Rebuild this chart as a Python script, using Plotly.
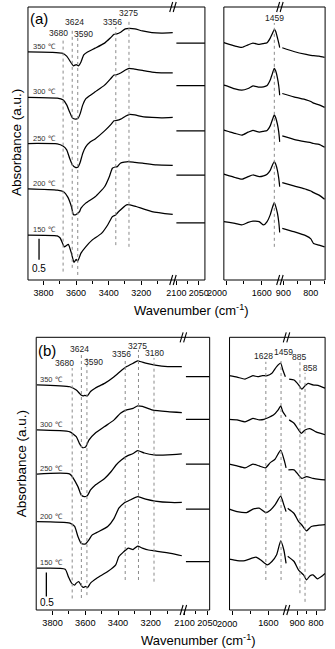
import plotly.graph_objects as go

FONT = "Liberation Sans, Arial, Helvetica, sans-serif"

temps = ["350 ℃", "300 ℃", "250 ℃", "200 ℃", "150 ℃"]

# ---------------- panel (a) data ----------------
a_oh_wn = [
    [3896, 3745, 3687, 3658, 3634, 3617, 3599, 3585, 3570, 3553, 3530, 3483, 3425, 3390, 3367, 3350, 3326, 3297, 3274, 3239, 3192, 3134, 3076, 3006],
    [3896, 3716, 3681, 3658, 3640, 3623, 3605, 3588, 3576, 3559, 3541, 3512, 3483, 3425, 3384, 3367, 3350, 3326, 3297, 3274, 3239, 3192, 3134, 3076, 3006],
    [3896, 3716, 3681, 3658, 3640, 3623, 3605, 3588, 3576, 3559, 3541, 3512, 3483, 3425, 3384, 3367, 3350, 3326, 3297, 3274, 3239, 3192, 3134, 3076, 3006],
    [3896, 3716, 3677, 3652, 3629, 3617, 3605, 3590, 3579, 3570, 3541, 3483, 3425, 3396, 3377, 3361, 3347, 3328, 3280, 3239, 3192, 3105, 3006],
    [3896, 3716, 3698, 3673, 3663, 3648, 3629, 3613, 3600, 3590, 3570, 3541, 3502, 3444, 3406, 3377, 3357, 3338, 3290, 3268, 3231, 3134, 3006],
]
a_oh_abs = [
    [5.43, 5.42, 5.40, 5.33, 5.19, 5.10, 5.13, 5.10, 5.19, 5.36, 5.43, 5.52, 5.64, 5.76, 5.85, 5.86, 5.90, 5.98, 5.99, 5.98, 5.93, 5.89, 5.88, 5.89],
    [4.35, 4.33, 4.29, 4.17, 4.00, 3.86, 3.83, 3.85, 3.95, 4.17, 4.31, 4.40, 4.48, 4.64, 4.81, 4.88, 4.89, 4.93, 5.00, 5.04, 5.02, 4.99, 4.95, 4.93, 4.93],
    [3.25, 3.24, 3.19, 3.10, 2.90, 2.74, 2.68, 2.69, 2.79, 3.02, 3.17, 3.29, 3.36, 3.55, 3.71, 3.79, 3.80, 3.83, 3.90, 3.94, 3.93, 3.89, 3.87, 3.86, 3.87],
    [2.17, 2.14, 2.10, 1.98, 1.75, 1.56, 1.55, 1.59, 1.63, 1.71, 1.83, 1.98, 2.22, 2.46, 2.66, 2.69, 2.70, 2.78, 2.82, 2.80, 2.78, 2.74, 2.73],
    [1.07, 1.05, 1.00, 0.79, 0.81, 0.85, 0.64, 0.42, 0.49, 0.45, 0.64, 0.79, 0.95, 1.11, 1.31, 1.51, 1.55, 1.63, 1.79, 1.79, 1.75, 1.63, 1.56],
]
a_mid_wn = [2100, 2036]
a_mid_abs = [5.64, 4.63, 3.55, 2.50, 1.36]
a_fp_wn = [2026, 1965, 1900, 1824, 1753, 1699, 1629, 1580, 1540, 1505, 1480, 1459, 1444, 1423, 1409, 1398]
a_fp_abs = [
    [5.65, 5.61, 5.57, 5.54, 5.60, 5.64, 5.61, 5.63, 5.65, 5.76, 5.87, 5.97, 5.92, 5.76, 5.64, 5.53],
    [4.64, 4.60, 4.55, 4.52, 4.56, 4.62, 4.59, 4.60, 4.63, 4.76, 4.92, 5.04, 4.98, 4.80, 4.62, 4.40],
    [3.57, 3.53, 3.49, 3.45, 3.52, 3.56, 3.52, 3.54, 3.56, 3.67, 3.82, 3.93, 3.87, 3.70, 3.52, 3.29],
    [2.52, 2.48, 2.44, 2.40, 2.46, 2.50, 2.46, 2.48, 2.52, 2.61, 2.74, 2.82, 2.76, 2.60, 2.42, 2.22],
    [1.39, 1.37, 1.35, 1.31, 1.37, 1.40, 1.39, 1.31, 1.39, 1.55, 1.73, 1.84, 1.76, 1.58, 1.38, 1.13],
]
a_lo_wn = [904, 862, 817, 800, 790, 770, 750]
a_lo_abs = [
    [5.53, 5.44, 5.37, 5.35, 5.34, 5.33, 5.30],
    [4.44, 4.36, 4.29, 4.25, 4.21, 4.17, 4.11],
    [3.43, 3.35, 3.29, 3.27, 3.25, 3.23, 3.16],
    [2.32, 2.24, 2.16, 2.12, 2.08, 2.02, 1.92],
    [1.23, 1.15, 1.05, 0.98, 0.87, 0.83, 0.79],
]

# ---------------- panel (b) data ----------------
b_oh_wn = [
    [3896, 3694, 3655, 3626, 3613, 3603, 3588, 3568, 3540, 3482, 3424, 3376, 3347, 3308, 3280, 3231, 3174, 3096, 3010],
    [3896, 3694, 3655, 3636, 3616, 3597, 3578, 3540, 3482, 3424, 3385, 3347, 3308, 3280, 3251, 3193, 3096, 3010],
    [3896, 3694, 3645, 3626, 3607, 3588, 3568, 3540, 3482, 3443, 3412, 3378, 3343, 3308, 3280, 3239, 3181, 3096, 3010],
    [3896, 3694, 3665, 3645, 3626, 3609, 3597, 3578, 3559, 3520, 3463, 3424, 3395, 3366, 3327, 3279, 3231, 3174, 3077, 3010],
    [3896, 3723, 3703, 3684, 3665, 3655, 3640, 3626, 3613, 3597, 3586, 3568, 3530, 3463, 3414, 3395, 3366, 3337, 3308, 3280, 3251, 3214, 3174, 3077, 3010],
]
b_oh_abs = [
    [4.69, 4.65, 4.58, 4.48, 4.46, 4.47, 4.46, 4.55, 4.62, 4.72, 4.86, 5.00, 5.07, 5.14, 5.19, 5.14, 5.10, 5.07, 5.07],
    [3.75, 3.71, 3.61, 3.47, 3.38, 3.40, 3.54, 3.68, 3.82, 3.96, 4.10, 4.17, 4.20, 4.25, 4.24, 4.17, 4.13, 4.11],
    [2.83, 2.83, 2.57, 2.40, 2.36, 2.38, 2.50, 2.60, 2.74, 2.88, 3.02, 3.13, 3.21, 3.26, 3.32, 3.27, 3.23, 3.23, 3.25],
    [1.84, 1.81, 1.74, 1.53, 1.39, 1.37, 1.38, 1.46, 1.56, 1.63, 1.74, 1.91, 2.12, 2.22, 2.29, 2.36, 2.31, 2.27, 2.24, 2.24],
    [0.87, 0.85, 0.69, 0.56, 0.52, 0.56, 0.59, 0.52, 0.47, 0.49, 0.47, 0.56, 0.66, 0.80, 0.94, 1.11, 1.21, 1.29, 1.26, 1.33, 1.29, 1.25, 1.23, 1.18, 1.13],
]
b_mid_wn = [2097, 2045]
b_mid_abs = [4.86, 3.97, 3.04, 2.10, 1.01]
b_fp_wn = [
    [2035, 1948, 1860, 1772, 1719, 1666, 1614, 1561, 1508, 1463, 1439, 1411],
    [2035, 1948, 1860, 1772, 1702, 1649, 1597, 1544, 1491, 1463, 1439, 1403],
    [2035, 1948, 1860, 1772, 1702, 1631, 1579, 1526, 1463, 1421, 1403],
    [2035, 1948, 1842, 1772, 1702, 1631, 1579, 1526, 1463, 1428, 1403],
    [2035, 1948, 1860, 1738, 1684, 1614, 1561, 1508, 1463, 1428, 1403],
]
b_fp_abs = [
    [4.88, 4.85, 4.81, 4.88, 4.86, 4.88, 4.88, 4.93, 5.07, 5.14, 5.00, 4.86],
    [3.97, 3.96, 3.92, 3.99, 3.96, 3.97, 4.01, 4.06, 4.17, 4.25, 4.13, 4.03],
    [3.04, 3.00, 2.96, 3.04, 3.00, 2.96, 3.07, 3.14, 3.33, 3.10, 2.96],
    [2.10, 2.05, 2.03, 2.10, 2.12, 2.03, 2.08, 2.19, 2.37, 2.19, 2.05],
    [1.06, 1.03, 1.03, 1.10, 1.04, 0.94, 1.01, 1.15, 1.44, 1.25, 0.97],
]
b_lo_wn = [
    [942, 916, 892, 875, 858, 842, 816, 783, 752],
    [942, 916, 892, 878, 858, 833, 800, 752],
    [946, 916, 892, 875, 850, 816, 783, 752],
    [950, 916, 892, 875, 850, 825, 783, 752],
    [950, 916, 892, 866, 850, 833, 816, 792, 767, 752],
]
b_lo_abs = [
    [4.81, 4.79, 4.69, 4.60, 4.67, 4.72, 4.69, 4.67, 4.62],
    [3.96, 3.89, 3.75, 3.68, 3.75, 3.78, 3.71, 3.65],
    [2.92, 2.92, 2.81, 2.74, 2.78, 2.74, 2.72, 2.71],
    [2.12, 2.01, 1.84, 1.77, 1.65, 1.74, 1.77, 1.78],
    [1.12, 1.01, 0.83, 0.73, 0.625, 0.71, 0.73, 0.65, 0.71, 0.76],
]

# band positions (cm-1)
a_bands = [[3680, 3624, 3590, 3356, 3275], [], [1459], []]
b_bands = [[3680, 3624, 3590, 3356, 3275, 3180], [], [1628, 1459], [885, 858]]

# tick labels
a_ticks = [[3800, 3600, 3400, 3200], [2100, 2050], [2000, 1600], [900, 800]]
b_ticks = [[3800, 3600, 3400, 3200], [2100, 2050], [2000, 1600], [900, 800]]
a_minor = [[3700, 3500, 3300, 3100], [2075], [1800], [850, 750]]
b_minor = [[3700, 3500, 3300, 3100], [2075], [1800], [850]]
scale_len = 0.5

# ---------------- layout geometry ----------------
W, H = 335, 649
def fx(p): return p / W
def fy(p): return 1 - p / H

# pixel edges of the four x-regions of each panel: (left, right)
panels = [
    dict(tag="(a)", tagpos=(30.8, 18.3),
         reg=[(19, 173), (173, 206), (226, 286), (286, 333)], ye=[7, 280], yr=[0, 6.5],
         ranges=[[3896, 3000], [2106, 2036], [2026, 1388], [910, 748]],
         series=[(a_oh_wn, a_oh_abs), (a_mid_wn, a_mid_abs), (a_fp_wn, a_fp_abs), (a_lo_wn, a_lo_abs)],
         bands=a_bands, ticks=a_ticks, minor=a_minor, tickfs=9,
         band_y=[[(0.20, 5.76), (0.29, 6.00), (0.12, 5.88), (0.83, 6.02), (0.79, 6.19)], [], [(0.79, 6.12)], []],
         band_lab=[[(-4.5, 5.87), (2, 6.14), (5.7, 5.86), (-3.5, 6.15), (0, 6.35)], [], [(0, 6.25)], []],
         templ_x=3880, sb=(3828, 0.48), sb_lab=(3830, 0.28),
         ylab=(7, 142.5), xlab=(191.3, 310), lab2000=-8.7, ticky=13.3),
    dict(tag="(b)", tagpos=(39.2, 350),
         reg=[(27.7, 184), (184, 211), (232, 293), (293, 333)], ye=[337.3, 610], yr=[0, 5.68],
         ranges=[[3900, 2996], [2101, 2045], [2032, 1390], [952, 752]],
         series=[(b_oh_wn, b_oh_abs), (b_mid_wn, b_mid_abs), (b_fp_wn, b_fp_abs), (b_lo_wn, b_lo_abs)],
         bands=b_bands, ticks=b_ticks, minor=b_minor, tickfs=9.2,
         band_y=[[(0.24, 5.04), (0.25, 5.35), (0.31, 5.28), (0.625, 5.25), (0.625, 5.42), (0.59, 5.25)], [],
                 [(0.625, 5.17), (0.625, 5.25)], [(0.35, 5.17), (0.17, 4.94)]],
         band_lab=[[(-7.4, 5.14), (-2, 5.43), (7, 5.16), (-3.5, 5.33), (-0.8, 5.5), (0.5, 5.35)], [],
                   [(-2.7, 5.29), (2, 5.38)], [(-1.3, 5.28), (5, 5.04)]],
         templ_x=3890, sb=(3838, 0.28), sb_lab=(3835, 0.15),
         ylab=(12.5, 463.5), xlab=(199, 640), lab2000=-5.5, ticky=14.3),
]

fig = go.Figure()
layout = dict(width=W, height=H, margin=dict(l=0, r=0, t=0, b=0),
              plot_bgcolor="white", paper_bgcolor="white", showlegend=False,
              font=dict(family=FONT, color="black"))
shapes, annotations = [], []

def is_multi(v):
    return len(v) > 0 and isinstance(v[0], list)

for k, p in enumerate(panels):
    ydom = [fy(p["ye"][1]), fy(p["ye"][0])]
    for i in range(4):
        n = 4 * k + i + 1
        xa = "x" if n == 1 else f"x{n}"
        ya = "y" if n == 1 else f"y{n}"
        xk = "xaxis" if n == 1 else f"xaxis{n}"
        yk = "yaxis" if n == 1 else f"yaxis{n}"
        ticktext = [str(t) for t in p["ticks"][i]]
        if i == 2:
            ticktext[0] = " "
        layout[xk] = dict(domain=[fx(p["reg"][i][0]), fx(p["reg"][i][1])], range=p["ranges"][i], anchor=ya,
                          tickmode="array", tickvals=p["ticks"][i], ticktext=ticktext, tickangle=0,
                          ticks="outside", ticklen=4, tickwidth=1, tickcolor="black",
                          showline=False, showgrid=False, zeroline=False, fixedrange=True,
                          tickfont=dict(size=p["tickfs"], family=FONT, color="black"),
                          minor=dict(tickmode="array", tickvals=p["minor"][i], ticks="outside",
                                     ticklen=2.5, tickwidth=1, tickcolor="black", showgrid=False))
        layout[yk] = dict(domain=ydom, range=p["yr"], anchor=xa, visible=False, fixedrange=True)

        wn, ab = p["series"][i]
        for j in range(len(temps)):
            xs = wn[j] if is_multi(wn) else wn
            ys = ab[j] if isinstance(ab[j], list) else [ab[j]] * len(xs)
            fig.add_trace(go.Scatter(x=xs, y=ys, mode="lines", xaxis=xa, yaxis=ya, hoverinfo="skip",
                                     line=dict(color="black", width=1.25, shape="spline", smoothing=0.5)))
        # dashed band markers
        for b, (y0, y1), (dx, ly) in zip(p["bands"][i], p["band_y"][i], p["band_lab"][i]):
            fig.add_trace(go.Scatter(x=[b, b], y=[y0, y1], mode="lines", xaxis=xa, yaxis=ya, hoverinfo="skip",
                                     line=dict(color="#8a8a8a", width=1, dash="dot")))
            annotations.append(dict(text=str(b), x=b, y=ly, xref=xa, yref=ya, xshift=dx, showarrow=False,
                                    xanchor="center", yanchor="middle",
                                    font=dict(size=8.5, family=FONT, color="#222")))
        if i == 0:
            # temperature labels
            for j, t in enumerate(temps):
                annotations.append(dict(text=t, x=p["templ_x"], y=p["series"][0][1][j][0], xref=xa, yref=ya,
                                        xanchor="left", yanchor="middle", yshift=5.5, showarrow=False,
                                        font=dict(size=7.5, family=FONT, color="#333")))
            # scale bar
            sx, sy = p["sb"]
            fig.add_trace(go.Scatter(x=[sx, sx], y=[sy, sy + scale_len], mode="lines", xaxis=xa, yaxis=ya,
                                     hoverinfo="skip", line=dict(color="black", width=1.3)))
            annotations.append(dict(text=str(scale_len), x=p["sb_lab"][0], y=p["sb_lab"][1], xref=xa, yref=ya,
                                    showarrow=False, xanchor="center", yanchor="middle",
                                    font=dict(size=10, family=FONT, color="black")))
        if i == 2:
            annotations.append(dict(text=str(p["ticks"][2][0]), x=p["ticks"][2][0], xref=xa, y=ydom[0],
                                    yref="paper", xshift=p["lab2000"], yshift=-p["ticky"], xanchor="center",
                                    yanchor="middle", showarrow=False,
                                    font=dict(size=p["tickfs"], family=FONT, color="black")))

    # frames
    for r0, r1 in [(0, 1), (2, 3)]:
        shapes.append(dict(type="rect", xref="paper", yref="paper", x0=fx(p["reg"][r0][0]), x1=fx(p["reg"][r1][1]),
                           y0=ydom[0], y1=ydom[1], line=dict(color="black", width=1), layer="above"))
    # axis-break marks
    for bx in (p["reg"][0][1], p["reg"][2][1]):
        for by in ydom:
            for off in (-2.5, 1.0):
                shapes.append(dict(type="line", xref="paper", yref="paper", xsizemode="pixel", ysizemode="pixel",
                                   xanchor=fx(bx), yanchor=by, x0=off - 1.5, x1=off + 1.5, y0=-5, y1=5,
                                   line=dict(color="black", width=1.1)))
    annotations.append(dict(text=p["tag"], x=fx(p["tagpos"][0]), y=fy(p["tagpos"][1]), xref="paper", yref="paper",
                            xanchor="center", yanchor="middle", showarrow=False,
                            font=dict(size=15, family=FONT, color="black")))
    annotations.append(dict(text="Absorbance (a.u.)", textangle=-90, x=fx(p["ylab"][0]), y=fy(p["ylab"][1]),
                            xref="paper", yref="paper", xanchor="center", yanchor="middle", showarrow=False,
                            font=dict(size=13.5, family=FONT, color="black")))
    annotations.append(dict(text="Wavenumber (cm<sup>-1</sup>)", x=fx(p["xlab"][0]), y=fy(p["xlab"][1]),
                            xref="paper", yref="paper", xanchor="center", yanchor="middle", showarrow=False,
                            font=dict(size=13, family=FONT, color="black")))

layout["shapes"] = shapes
layout["annotations"] = annotations
fig.update_layout(**layout)
fig.write_html("out.html", config={"displayModeBar": False},
               post_script="document.body.style.margin='0';")
